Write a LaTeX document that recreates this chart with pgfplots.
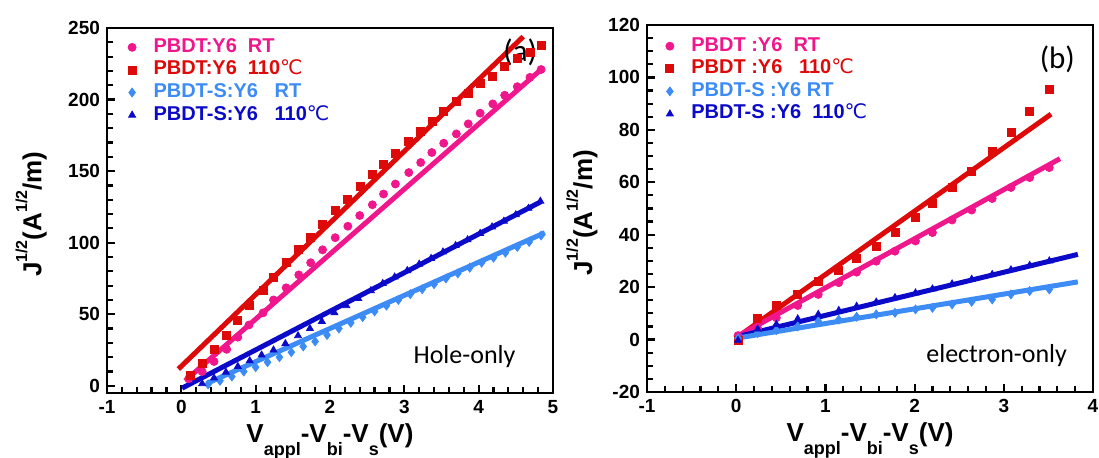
\documentclass[border=0pt]{standalone}
\usepackage{fontspec}
\setmainfont{Liberation Sans}
\newfontfamily\carlito{Carlito}
\newfontfamily\dejavu{DejaVu Sans}
\usepackage{pgfplots}
\pgfplotsset{compat=1.18}

\definecolor{cpink}{HTML}{F0168C}
\definecolor{cred}{HTML}{DE0A0A}
\definecolor{clblue}{HTML}{3D8CF5}
\definecolor{cdblue}{HTML}{0A0AC8}

\newcommand{\degc}{{\dejavu\mdseries ℃}}
\newcommand{\sub}[1]{\raisebox{-0.48em}{\fontsize{9}{9}\selectfont #1}}
\newcommand{\sups}[1]{\raisebox{0.55em}{\fontsize{8}{8}\selectfont #1}}

\pgfplotsset{
 panel/.style={
 scale only axis, width=223pt,
 axis line style={line width=1.4pt},
 tick align=inside, tick pos=left,
 major tick length=4pt, minor tick length=2.8pt,
 tick style={black, line width=1.1pt},
 minor x tick num=4,
 ticklabel style={font=\bfseries\fontsize{9.5}{10}\selectfont},
 /pgf/number format/assume math mode=true,
 label style={font=\bfseries\fontsize{13}{14}\selectfont},
 xlabel={V\sub{appl}-V\sub{bi}-V\sub{s}(V)},
 ylabel={J\sups{1/2}(A\sups{1/2}/m)},
 xlabel style={at={(axis description cs:0.5,0)}, anchor=base, yshift=-25pt},
 legend cell align=left,
 legend style={draw=none, fill=none, font=\bfseries\fontsize{10}{11}\selectfont,
 row sep=0pt, nodes={inner sep=1.2pt, text height=6.9pt, text depth=2pt},
 /tikz/every odd column/.append style={column sep=7.5pt}},
 clip=false,
 },
 mk/.style={only marks, mark size=2pt, color=#1, mark options={fill=#1, draw=#1}},
 fit/.style={no marks, line width=2.5pt, color=#1, forget plot},
}

\begin{document}
\begin{tikzpicture}
\useasboundingbox (0,0) rectangle (549.5pt,229pt);

% ===== (a) hole-only =====
\begin{axis}[panel,
 at={(53.5pt,32.5pt)}, anchor=south west, height=182.5pt,
 xmin=-1, xmax=5, ymin=-5, ymax=250,
 xtick={-1,0,...,5}, ytick={0,50,...,250}, minor y tick num=4,
 ylabel style={at={(axis description cs:-0.17,0.49)}, anchor=center},
 legend style={at={(axis description cs:0.033,0.99)}, anchor=north west},
]
\addplot[mk=cpink, mark=*] coordinates {
 (0.10,5) (0.28,10) (0.44,17) (0.61,25.5) (0.76,34) (0.91,42.5) (1.10,51)
 (1.24,60) (1.41,68.5) (1.58,77.5) (1.74,86) (1.90,95) (2.07,103.5)
 (2.24,111.5) (2.40,119) (2.57,126.5) (2.72,134) (2.88,141) (3.06,149)
 (3.22,156) (3.37,163) (3.53,169.5) (3.70,176) (3.86,183) (4.02,190.5)
 (4.19,197) (4.35,203) (4.52,209) (4.69,215.5) (4.84,221)};
\addlegendentry{\textcolor{cpink}{PBDT:Y6\ \ RT}}
\addplot[mk=cred, mark=square*] coordinates {
 (0.12,7) (0.28,16) (0.44,25.5) (0.61,35.5) (0.76,45.5) (0.91,56) (1.10,66.5)
 (1.24,76) (1.41,86.5) (1.58,95) (1.74,104) (1.90,112.5) (2.07,122.5)
 (2.24,130.5) (2.41,139.5) (2.57,147.5) (2.72,155) (2.88,162.5) (3.06,171)
 (3.22,177.5) (3.38,184.5) (3.53,191.5) (3.70,198.5) (3.86,204.5) (4.02,211)
 (4.19,216.5) (4.35,223) (4.52,228.5) (4.69,233) (4.84,237.5)};
\addlegendentry{\textcolor{cred}{PBDT:Y6\ \ 110\degc}}
\addplot[mk=clblue, mark=diamond*, mark size=2.2pt] coordinates {
 (0.36,1) (0.52,3.5) (0.68,6.5) (0.84,10) (1.00,13) (1.16,16.5) (1.32,20)
 (1.48,23.5) (1.64,27.5) (1.80,31) (1.96,35.5) (2.12,40) (2.28,44) (2.44,48)
 (2.60,52) (2.76,56) (2.92,60) (3.08,64) (3.24,67.5) (3.40,71) (3.56,75)
 (3.72,78.5) (3.88,82.5) (4.04,86) (4.20,89.5) (4.36,93) (4.52,97)
 (4.68,100.5) (4.84,105)};
\addlegendentry{\textcolor{clblue}{PBDT-S:Y6\ \ \ RT}}
\addplot[mk=cdblue, mark=triangle*] coordinates {
 (0.28,1.5) (0.44,5.5) (0.60,9.5) (0.76,13.5) (0.92,17.5) (1.08,21.5)
 (1.24,25) (1.40,29.5) (1.57,35) (1.73,40) (1.89,45) (2.06,51) (2.22,56)
 (2.38,61) (2.55,66.5) (2.71,71.5) (2.87,76) (3.04,80.5) (3.20,85) (3.36,89)
 (3.52,93.5) (3.69,98) (3.85,102) (4.02,106.5) (4.18,111) (4.34,115)
 (4.50,119.5) (4.67,124) (4.83,129)};
\addlegendentry{\textcolor{cdblue}{PBDT-S:Y6\ \ \ 110\degc}}
% linear fits
\addplot[fit=cred] coordinates {(-0.04,11.7) (4.60,244)};
\addplot[fit=cpink] coordinates {(0.05,3.5) (4.84,221)};
\addplot[fit=cdblue] coordinates {(0.01,-1.6) (4.84,128.7)};
\addplot[fit=clblue] coordinates {(0.34,1.6) (4.89,107)};
\node[font=\carlito\fontsize{15.5}{16}\selectfont] at (axis cs:4.56,233) {(a)};
\node[font=\carlito\fontsize{13}{14}\selectfont, anchor=base] at (axis cs:3.81,15.5) {Hole-only};
\end{axis}

% ===== (b) electron-only =====
\begin{axis}[panel,
 at={(323.5pt,33pt)}, anchor=south west, height=183.5pt,
 xmin=-1, xmax=4, ymin=-20, ymax=120,
 xtick={-1,0,...,4}, ytick={-20,0,...,120}, minor y tick num=3,
 ylabel style={at={(axis description cs:-0.146,0.488)}, anchor=center},
 legend style={at={(axis description cs:0.028,0.985)}, anchor=north west},
]
\addplot[mk=cpink, mark=*] coordinates {
 (0.02,1.5) (0.24,4.3) (0.45,8.3) (0.69,13) (0.92,17.2) (1.15,21.7)
 (1.35,25.7) (1.57,29.9) (1.78,33.7) (2.01,37.6) (2.20,40.8) (2.42,45.6)
 (2.64,49.4) (2.87,53.8) (3.08,58) (3.29,61.8) (3.51,65.6)};
\addlegendentry{\textcolor{cpink}{PBDT :Y6\ \ RT}}
\addplot[mk=cred, mark=square*] coordinates {
 (0.02,-0.5) (0.24,8) (0.45,13) (0.69,17.2) (0.92,22.3) (1.15,26.5)
 (1.35,30.8) (1.57,35.7) (1.78,41) (2.01,46.5) (2.20,52) (2.42,58)
 (2.64,64.3) (2.87,71.6) (3.08,79.2) (3.29,86.9) (3.51,95.5)};
\addlegendentry{\textcolor{cred}{PBDT :Y6\ \ \ 110\degc}}
\addplot[mk=clblue, mark=diamond*, mark size=2.2pt] coordinates {
 (0.02,0.5) (0.24,2.5) (0.45,3.6) (0.69,5) (0.92,7) (1.15,7.6) (1.35,8.7)
 (1.57,9.6) (1.78,10.2) (2.01,11.5) (2.20,12.1) (2.42,13.4) (2.64,14.4)
 (2.87,15.3) (3.08,17.2) (3.29,18.5) (3.51,19.1)};
\addlegendentry{\textcolor{clblue}{PBDT-S :Y6 RT}}
\addplot[mk=cdblue, mark=triangle*] coordinates {
 (0.02,-0.3) (0.24,4) (0.45,5.8) (0.69,7.9) (0.92,9.6) (1.15,11.1)
 (1.35,12.7) (1.57,14.3) (1.78,16) (2.01,17.8) (2.20,19.3) (2.42,21.2)
 (2.64,23) (2.87,24.8) (3.08,26.6) (3.29,28.3) (3.51,30)};
\addlegendentry{\textcolor{cdblue}{PBDT-S :Y6\ \ 110\degc}}
% linear fits
\addplot[fit=cred] coordinates {(0,0.6) (3.53,86)};
\addplot[fit=cpink] coordinates {(0,1) (3.63,69)};
\addplot[fit=cdblue] coordinates {(0,1) (3.83,32.5)};
\addplot[fit=clblue] coordinates {(0,0.5) (3.83,22)};
\node[font=\carlito\fontsize{15.5}{16}\selectfont] at (axis cs:3.6,107) {(b)};
\node[font=\carlito\fontsize{13}{14}\selectfont, anchor=base] at (axis cs:2.92,-8.7) {electron-only};
\end{axis}
\end{tikzpicture}
\end{document}
